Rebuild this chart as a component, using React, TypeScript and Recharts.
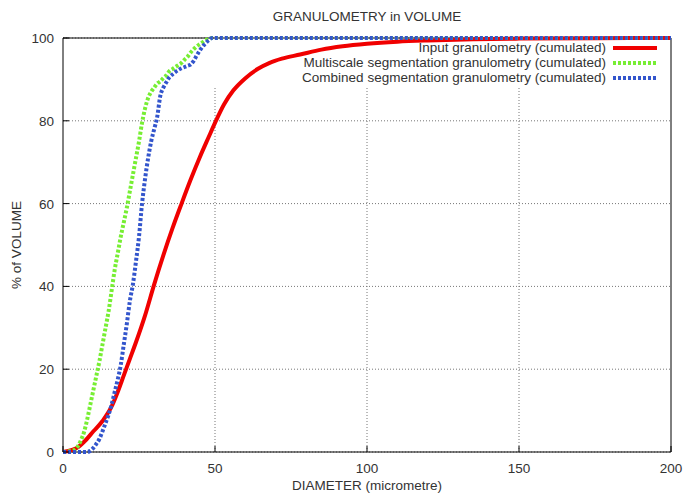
import {
  LineChart,
  Line,
  XAxis,
  YAxis,
  CartesianGrid,
  ReferenceLine,
  ReferenceArea,
} from "recharts";

const diameterTicks = [0, 50, 100, 150, 200];
const volumeTicks = [0, 20, 40, 60, 80, 100];
const gridDiameters = [50, 100, 150];

// input granulometry (cumulated)
const inputDiameter = [0, 3, 5, 7, 10, 13, 16, 18, 20, 22, 24, 27, 30, 33, 36, 39, 42, 45, 48, 50, 53, 56, 60, 64, 68, 72, 78, 85, 92, 100, 110, 120, 135, 150, 175, 200];
const inputVolume = [0, 0.5, 1.2, 2.5, 5, 7.5, 11, 14.5, 18.5, 22.5, 26.5, 33, 40.5, 47.5, 54, 60, 65.8, 71.2, 76.2, 79.5, 84, 87.3, 90.3, 92.5, 94, 95, 96, 97.2, 98, 98.6, 99.1, 99.4, 99.7, 99.85, 99.95, 100];

// multiscale segmentation granulometry (cumulated)
const multiDiameter = [0, 2, 4, 5, 6, 7, 8, 9, 10, 11, 12, 13, 14, 15, 16, 17, 18, 19, 20, 21, 22, 23, 24, 25, 26, 27, 28, 29, 30, 31, 32, 33, 34, 35, 36, 37, 38, 39, 40, 41, 42, 43, 44, 45, 46, 47, 48, 49, 50, 200];
const multiVolume = [0, 0.2, 0.6, 1.5, 3, 5, 8, 11.5, 15, 18.5, 22, 26, 30, 34, 39, 44, 48, 52, 55.5, 59, 63, 67, 71, 75, 79.5, 83, 85.5, 87, 88, 89, 89.5, 90.3, 91, 92, 92.5, 93, 93.5, 94, 94.8, 95.5, 96.5, 97.3, 98, 98.5, 99, 99.5, 99.8, 100, 100, 100];

// combined segmentation granulometry (cumulated)
const combinedDiameter = [0, 5, 8, 9, 10, 11, 12, 13, 14, 15, 16, 17, 18, 19, 20, 21, 22, 23, 24, 25, 26, 27, 28, 29, 30, 31, 32, 33, 34, 35, 36, 37, 38, 39, 40, 41, 42, 43, 44, 45, 46, 47, 48, 49, 50, 200];
const combinedVolume = [0, 0, 0, 0.3, 1, 2, 3.2, 5, 7, 9, 11.5, 14.5, 17.5, 21, 26, 31, 36.5, 40.5, 46, 52, 60, 66, 71, 75, 78, 81, 86, 88, 89.3, 90.5, 91.2, 91.8, 92.3, 92.7, 93, 93.3, 93.6, 94.5, 95.8, 97, 98, 98.8, 99.5, 100, 100, 100];

const toPoints = (xs: number[], ys: number[]) => xs.map((d, i) => ({ d, v: ys[i] }));

const series = [
  { name: "Input granulometry (cumulated)", color: "#f00000", width: 4, dash: undefined, data: toPoints(inputDiameter, inputVolume) },
  { name: "Multiscale segmentation granulometry (cumulated)", color: "#77ee33", width: 4, dash: "3 2", data: toPoints(multiDiameter, multiVolume) },
  { name: "Combined segmentation granulometry (cumulated)", color: "#3355cc", width: 4, dash: "3 2", data: toPoints(combinedDiameter, combinedVolume) },
];

const font = "'Liberation Sans', Arial, sans-serif";
const fs = 13.5;
const ink = "#333";

const BottomTick = (p: any) => (
  <g>
    <line x1={p.x} x2={p.x} y1={p.y} y2={p.y - 6} stroke="#000" />
    <text x={p.x} y={p.y + 21} textAnchor="middle" fontSize={fs} fill={ink} fontFamily={font}>
      {p.payload.value}
    </text>
  </g>
);
const TopTick = (p: any) => <line x1={p.x} x2={p.x} y1={p.y} y2={p.y + 6} stroke="#000" />;
const LeftTick = (p: any) => (
  <g>
    <line x1={p.x} x2={p.x + 6} y1={p.y} y2={p.y} stroke="#000" />
    <text x={p.x - 9} y={p.y + 5} textAnchor="end" fontSize={fs} fill={ink} fontFamily={font}>
      {p.payload.value}
    </text>
  </g>
);
const RightTick = (p: any) => <line x1={p.x} x2={p.x - 6} y1={p.y} y2={p.y} stroke="#000" />;

const KeyBox = () => (
  <div style={{ position: "absolute", top: 40, right: 27, fontFamily: font, fontSize: fs, color: ink }}>
    {series.map((s) => (
      <div key={s.name} style={{ display: "flex", alignItems: "center", justifyContent: "flex-end", height: 15 }}>
        <span style={{ whiteSpace: "nowrap" }}>{s.name}</span>
        <svg width={48} height={8} style={{ marginLeft: 5 }}>
          <line x1={2} x2={46} y1={4} y2={4} stroke={s.color} strokeWidth={s.width} strokeDasharray={s.dash} />
        </svg>
      </div>
    ))}
  </div>
);

export default function App() {
  return (
    <div style={{ position: "absolute", left: 0, top: 0, width: 686, height: 494, background: "#fff" }}>
      <LineChart width={686} height={494} margin={{ top: 38, right: 15, bottom: 0, left: 0 }}>
        <CartesianGrid vertical={false} horizontal stroke="#777" strokeDasharray="1 2" />
        {gridDiameters.map((d) => (
          <ReferenceLine
            key={d}
            segment={[
              { x: d, y: 0 },
              { x: d, y: 88 },
            ]}
            stroke="#777"
            strokeDasharray="1 2"
          />
        ))}
        <ReferenceArea x1={0} x2={200} y1={0} y2={100} fill="none" stroke="#000" strokeWidth={1} />
        <XAxis
          dataKey="d"
          type="number"
          domain={[0, 200]}
          ticks={diameterTicks}
          height={42}
          axisLine={false}
          tickLine={false}
          tickSize={0}
          tickMargin={0}
          tick={BottomTick}
          allowDuplicatedCategory={false}
        />
        <XAxis
          xAxisId="top"
          orientation="top"
          type="number"
          domain={[0, 200]}
          ticks={diameterTicks}
          height={0}
          axisLine={false}
          tickLine={false}
          tickSize={0}
          tickMargin={0}
          tick={TopTick}
        />
        <YAxis
          type="number"
          domain={[0, 100]}
          ticks={volumeTicks}
          width={63}
          axisLine={false}
          tickLine={false}
          tickSize={0}
          tickMargin={0}
          tick={LeftTick}
        />
        <YAxis
          yAxisId="right"
          orientation="right"
          type="number"
          domain={[0, 100]}
          ticks={volumeTicks}
          width={0}
          axisLine={false}
          tickLine={false}
          tickSize={0}
          tickMargin={0}
          tick={RightTick}
        />
        {series.map((s) => (
          <Line
            key={s.name}
            data={s.data}
            dataKey="v"
            name={s.name}
            type="monotone"
            stroke={s.color}
            strokeWidth={s.width}
            strokeDasharray={s.dash}
            dot={false}
            isAnimationActive={false}
          />
        ))}
      </LineChart>
      <div style={{ position: "absolute", left: 0, width: 734, top: 9, textAlign: "center", fontFamily: font, fontSize: fs, color: ink }}>
        GRANULOMETRY in VOLUME
      </div>
      <div style={{ position: "absolute", left: 0, width: 734, top: 478, textAlign: "center", fontFamily: font, fontSize: fs, color: ink }}>
        DIAMETER (micrometre)
      </div>
      <div
        style={{
          position: "absolute",
          left: 16,
          top: 245,
          transform: "translate(-50%, -50%) rotate(-90deg)",
          whiteSpace: "nowrap",
          fontFamily: font,
          fontSize: fs,
          color: ink,
        }}
      >
        % of VOLUME
      </div>
      <KeyBox />
    </div>
  );
}
